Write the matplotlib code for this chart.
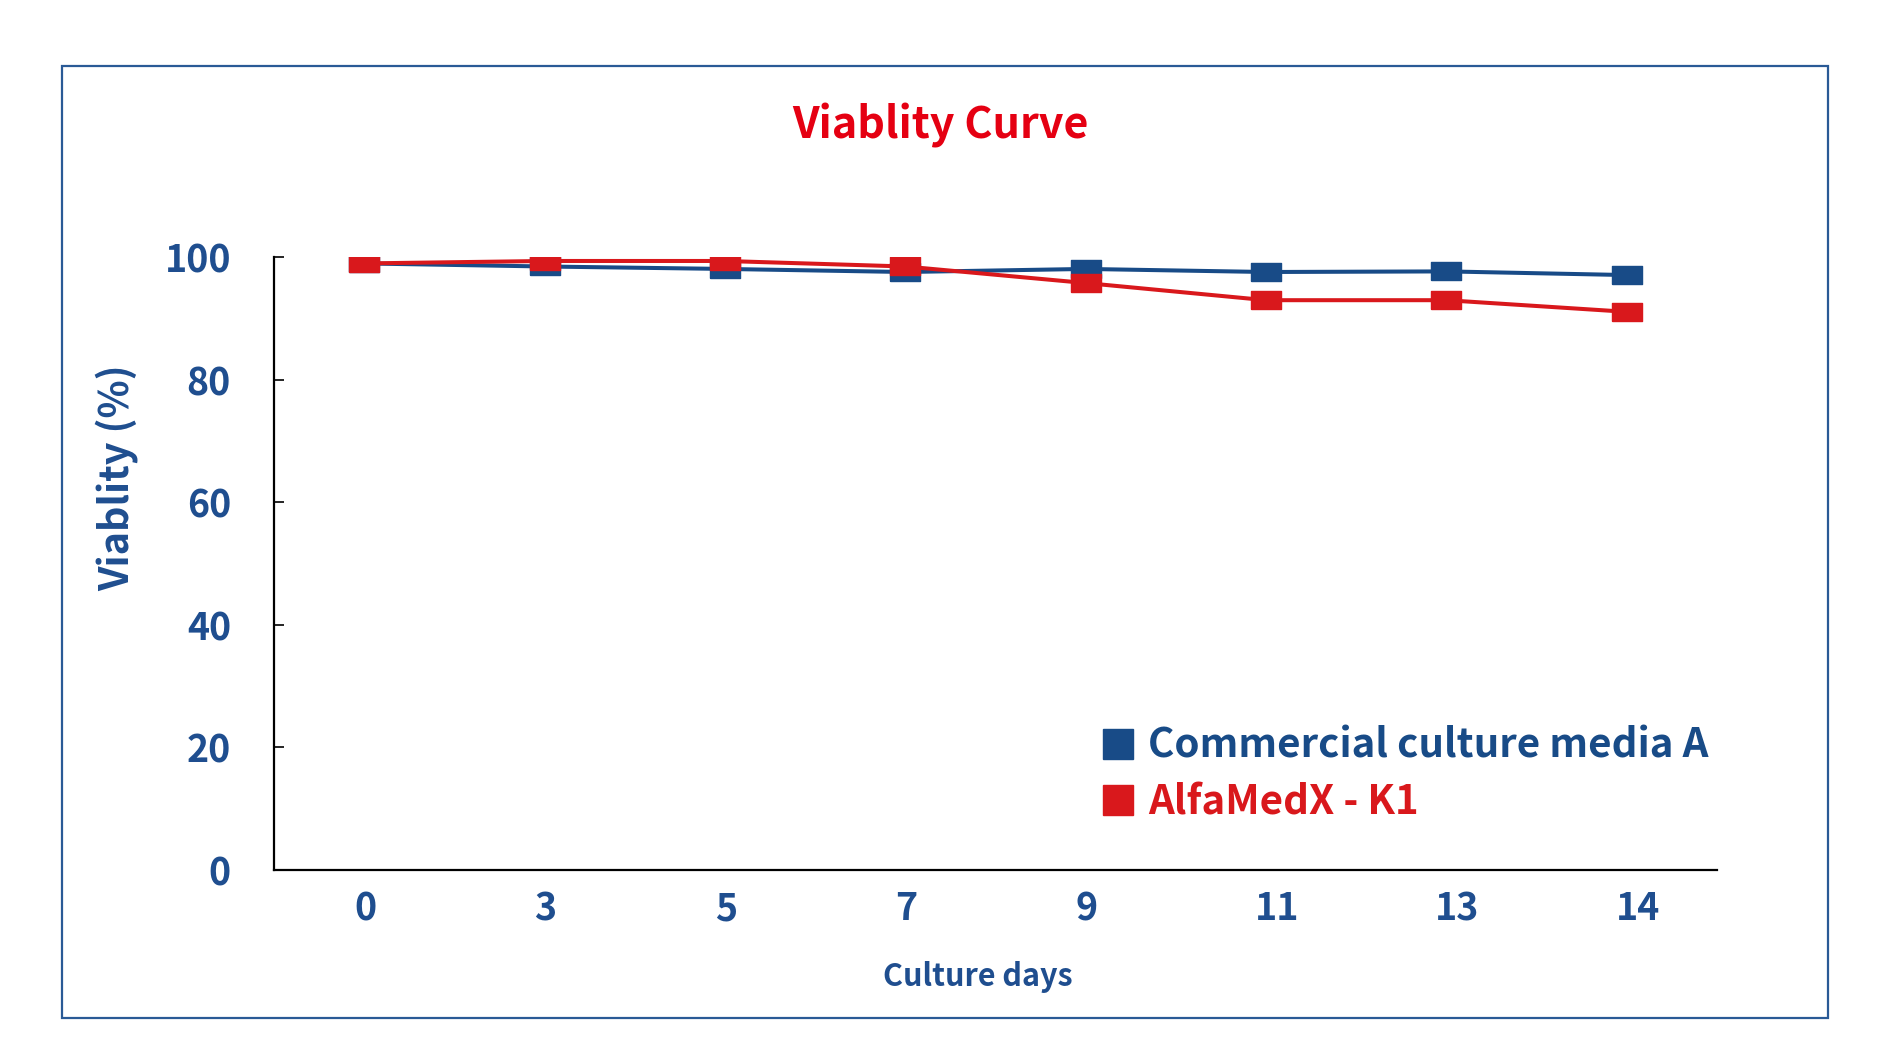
import matplotlib
matplotlib.use('Agg')
import matplotlib.pyplot as plt
import matplotlib.transforms as mtransforms
from matplotlib.lines import Line2D
from matplotlib.patches import Rectangle

plt.rcParams['font.family'] = ['Noto Sans CJK SC', 'DejaVu Sans']

# data
days = ['0', '3', '5', '7', '9', '11', '13', '14']
commercial = [99.0, 98.5, 98.1, 97.6, 98.1, 97.6, 97.7, 97.1]
alfamedx = [99.0, 99.4, 99.4, 98.5, 95.8, 93.0, 93.0, 91.1]
series_names = ['Commercial culture media A', 'AlfaMedX - K1']

blue = '#184b87'
red = '#d9181c'
txt_blue = '#1f4e8f'

W, H = 1891, 1064
fig = plt.figure(figsize=(W / 100, H / 100), dpi=100)
fig.patch.set_facecolor('white')

# outer frame
fig.patches.append(Rectangle((62 / W, 1 - 1018 / H), (1828 - 62) / W, (1018 - 66) / H,
                             transform=fig.transFigure, fill=False,
                             edgecolor='#2a5a96', linewidth=1.6))

# wide flat rectangle marker like the original
rect_marker = [(-1, -0.58), (1, -0.58), (1, 0.58), (-1, 0.58), (-1, -0.58)]

ax = fig.add_axes([274 / W, 1 - 870 / H, (1717 - 274) / W, (870 - 257.3) / H])
x = list(range(len(days)))
ax.plot(x, commercial, color=blue, lw=2.9, marker=rect_marker, ms=21.6, zorder=3)
ax.plot(x, alfamedx, color=red, lw=2.9, marker=rect_marker, ms=21.6, zorder=4)

ax.set_xlim(-0.5, len(days) - 0.5)
ax.set_ylim(0, 100)
ax.set_xticks(x)
ax.set_xticklabels(days)
ax.set_yticks([0, 20, 40, 60, 80, 100])

for s in ['top', 'right']:
    ax.spines[s].set_visible(False)
for s in ['left', 'bottom']:
    ax.spines[s].set_linewidth(1.6)
    ax.spines[s].set_color('black')

ax.tick_params(axis='y', direction='in', length=7, width=1.2, pad=31,
               labelsize=27, labelcolor=txt_blue)
ax.tick_params(axis='x', length=0, pad=14, labelsize=27, labelcolor=txt_blue)
for lab in ax.get_xticklabels() + ax.get_yticklabels():
    lab.set_fontweight('bold')
# labels in the original sit a bit right of the points, more so for two digits
for lab in ax.get_xticklabels():
    dx = 1 + 10 * (len(lab.get_text()) - 1)
    lab.set_transform(lab.get_transform() +
                      mtransforms.ScaledTranslation(dx / 100, 0, fig.dpi_scale_trans))

fig.text(940 / W, 1 - 126 / H, 'Viablity Curve', color='#e50012', fontsize=31,
         ha='center', va='center', fontweight='bold')
fig.text(978 / W, 1 - 977 / H, 'Culture days', color=txt_blue, fontsize=22,
         ha='center', va='center', fontweight='bold')
fig.text(117 / W, 1 - 478 / H, 'Viablity (%)', color=txt_blue, fontsize=28.5,
         ha='center', va='center', rotation=90, fontweight='bold')

handles = [Line2D([], [], color=blue, marker='s', ls='none', ms=21.5),
           Line2D([], [], color=red, marker='s', ls='none', ms=21.5)]
leg = fig.legend(handles, series_names, loc='upper left',
                 bbox_to_anchor=(1098 / W, 1 - 726 / H), frameon=False,
                 fontsize=29, handlelength=1.0, handletextpad=0.25,
                 labelspacing=0.38, borderaxespad=0, borderpad=0)
for t, c in zip(leg.get_texts(), [blue, red]):
    t.set_color(c)
    t.set_fontweight('bold')

fig.savefig('out.png', dpi=100)
